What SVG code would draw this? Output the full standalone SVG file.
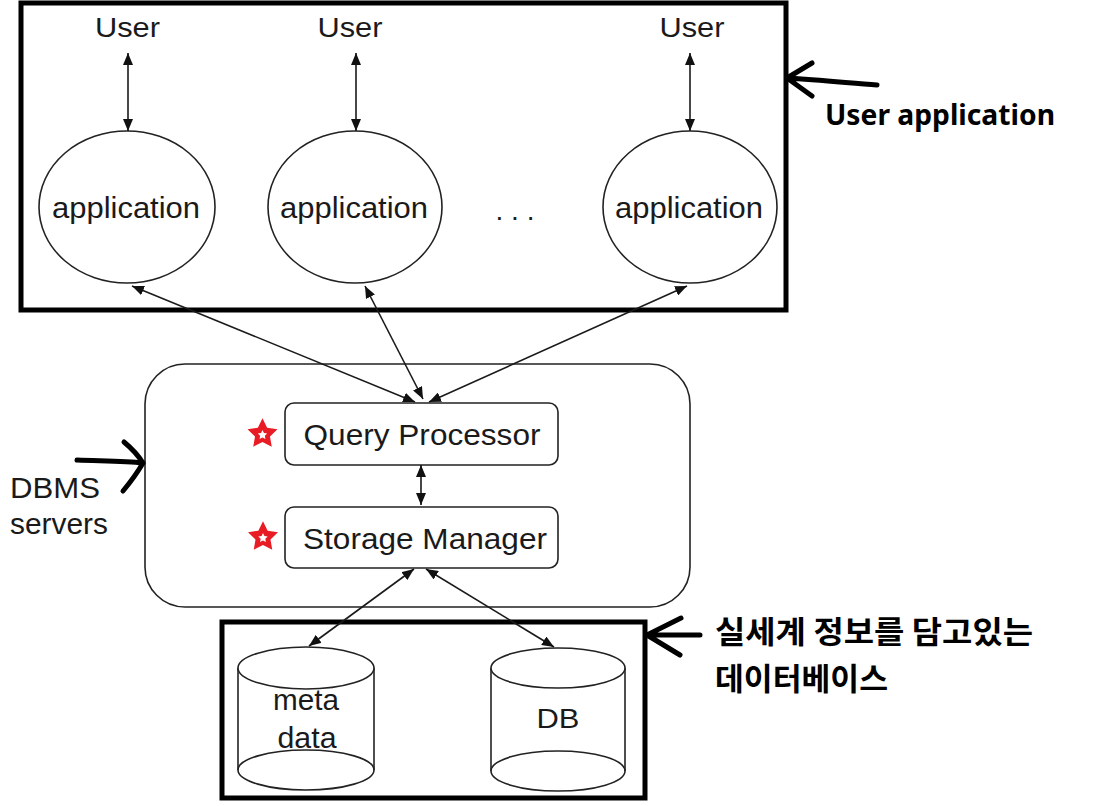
<svg xmlns="http://www.w3.org/2000/svg" width="1110" height="806" viewBox="0 0 1110 806">
  <style>
    .lbl { font-family: "Liberation Sans", Arial, sans-serif; fill: #1a1a1a; text-anchor: middle; }
    .lbl-l { font-family: "Liberation Sans", Arial, sans-serif; fill: #1a1a1a; text-anchor: start; }
    .note { font-family: "Noto Sans", "Liberation Sans", sans-serif; font-weight: bold; fill: #000; }
    .ko { font-family: "Noto Sans CJK KR", "Noto Sans", sans-serif; font-weight: bold; fill: #000; }
    .frame { fill: none; stroke: #000; stroke-width: 5; }
    .shape { fill: #fff; stroke: #222; stroke-width: 1.6; }
    .conn { fill: none; stroke: #1a1a1a; stroke-width: 1.6; marker-start: url(#ah); marker-end: url(#ah); }
    .hand { fill: none; stroke: #000; stroke-width: 5; stroke-linecap: round; stroke-linejoin: round; }
  </style>
  <defs>
    <marker id="ah" viewBox="0 0 12 10" refX="12" refY="5" markerWidth="12" markerHeight="10" markerUnits="userSpaceOnUse" orient="auto-start-reverse">
      <path d="M0,0 L12,5 L0,10 z" fill="#111"/>
    </marker>
    <polygon id="star" points="0,-15 4.41,-6.07 14.27,-4.64 7.13,2.32 8.82,12.14 0,7.5 -8.82,12.14 -7.13,2.32 -14.27,-4.64 -4.41,-6.07"/>
  </defs>
  <rect width="1110" height="806" fill="#fff"/>

  <!-- Frames -->
  <g id="user-app-frame">
    <rect class="frame" x="21" y="3" width="765" height="307"/>
  </g>
  <g id="db-frame">
    <rect class="frame" x="222" y="622" width="423" height="176"/>
  </g>

  <!-- DBMS server container -->
  <g id="dbms">
    <rect class="shape" x="145" y="364" width="545" height="243" rx="40" ry="40"/>
  </g>

  <!-- Users -->
  <g id="user1"><text class="lbl" x="127.5" y="37" font-size="27" textLength="65" lengthAdjust="spacingAndGlyphs">User</text></g>
  <g id="user2"><text class="lbl" x="350" y="37" font-size="27" textLength="65" lengthAdjust="spacingAndGlyphs">User</text></g>
  <g id="user3"><text class="lbl" x="692" y="37" font-size="27" textLength="65" lengthAdjust="spacingAndGlyphs">User</text></g>

  <!-- Applications -->
  <g id="app1">
    <ellipse class="shape" cx="127" cy="207" rx="88" ry="76"/>
    <text class="lbl" x="126" y="218" font-size="30" textLength="148" lengthAdjust="spacingAndGlyphs">application</text>
  </g>
  <g id="app2">
    <ellipse class="shape" cx="355" cy="207" rx="87" ry="76"/>
    <text class="lbl" x="354" y="218" font-size="30" textLength="148" lengthAdjust="spacingAndGlyphs">application</text>
  </g>
  <g id="dots"><text class="lbl" x="515" y="220" font-size="28">. . .</text></g>
  <g id="app3">
    <ellipse class="shape" cx="690" cy="207" rx="87" ry="76"/>
    <text class="lbl" x="689" y="218" font-size="30" textLength="148" lengthAdjust="spacingAndGlyphs">application</text>
  </g>

  <!-- Query processor / Storage manager -->
  <g id="query-processor">
    <rect class="shape" x="285" y="403" width="273" height="62" rx="9" ry="9"/>
    <text class="lbl" x="422" y="445" font-size="29" textLength="237" lengthAdjust="spacingAndGlyphs">Query Processor</text>
  </g>
  <g id="storage-manager">
    <rect class="shape" x="285" y="507" width="273" height="61" rx="9" ry="9"/>
    <text class="lbl" x="425" y="549" font-size="29" textLength="244" lengthAdjust="spacingAndGlyphs">Storage Manager</text>
  </g>

  <!-- Stars -->
  <g id="star1">
    <use href="#star" transform="translate(262.5,434) scale(1.05)" fill="#e81c24"/>
    <use href="#star" transform="translate(262.5,435) scale(0.33)" fill="#fff"/>
  </g>
  <g id="star2">
    <use href="#star" transform="translate(263,537) scale(1.05)" fill="#e81c24"/>
    <use href="#star" transform="translate(263,538) scale(0.33)" fill="#fff"/>
  </g>

  <!-- Cylinders -->
  <g id="metadata">
    <path d="M238,668 L238,770 A68,20 0 0 0 374,770 L374,668 Z" fill="#fff"/>
    <line x1="238" y1="668" x2="238" y2="770" stroke="#222" stroke-width="1.6"/>
    <line x1="374" y1="668" x2="374" y2="770" stroke="#222" stroke-width="1.6"/>
    <ellipse class="shape" cx="306" cy="668" rx="68" ry="21"/>
    <ellipse cx="306" cy="770" rx="68" ry="20" fill="none" stroke="#222" stroke-width="1.6"/>
    <text class="lbl" x="306" y="710" font-size="29" textLength="66" lengthAdjust="spacingAndGlyphs">meta</text>
    <text class="lbl" x="307" y="748" font-size="29" textLength="59" lengthAdjust="spacingAndGlyphs">data</text>
  </g>
  <g id="db">
    <path d="M491,668 L491,771 A67,20 0 0 0 625,771 L625,668 Z" fill="#fff"/>
    <line x1="491" y1="668" x2="491" y2="771" stroke="#222" stroke-width="1.6"/>
    <line x1="625" y1="668" x2="625" y2="771" stroke="#222" stroke-width="1.6"/>
    <ellipse class="shape" cx="558" cy="668" rx="67" ry="20"/>
    <ellipse cx="558" cy="771" rx="67" ry="20" fill="none" stroke="#222" stroke-width="1.6"/>
    <text class="lbl" x="558" y="728" font-size="27" textLength="43" lengthAdjust="spacingAndGlyphs">DB</text>
  </g>

  <!-- Connectors -->
  <g id="connectors">
    <line class="conn" x1="128" y1="53" x2="128" y2="131"/>
    <line class="conn" x1="356" y1="53" x2="356" y2="131"/>
    <line class="conn" x1="690" y1="53" x2="690" y2="131"/>
    <line class="conn" x1="132" y1="286" x2="415" y2="402"/>
    <line class="conn" x1="365" y1="286" x2="423" y2="399"/>
    <line class="conn" x1="687" y1="286" x2="429" y2="402"/>
    <line class="conn" x1="421" y1="465" x2="421" y2="505"/>
    <line class="conn" x1="414" y1="569" x2="309" y2="646"/>
    <line class="conn" x1="426" y1="569" x2="554" y2="647"/>
  </g>

  <!-- Annotations -->
  <g id="note-user-app">
    <path class="hand" d="M877,85 C850,83 820,80 787,78 M787,78 L812,63 M787,78 L812,96"/>
    <text class="note" x="825" y="125" font-size="29" textLength="230" lengthAdjust="spacingAndGlyphs">User application</text>
  </g>
  <g id="note-dbms">
    <path class="hand" d="M77,460 C100,461 125,461 143,463 M143,463 C138,455 130,447 124,442 M143,463 C136,475 128,485 123,491"/>
    <text class="lbl-l" x="10" y="498" font-size="30" textLength="90" lengthAdjust="spacingAndGlyphs">DBMS</text>
    <text class="lbl-l" x="10" y="534" font-size="30" textLength="98" lengthAdjust="spacingAndGlyphs">servers</text>
  </g>
  <g id="note-db">
    <path class="hand" d="M700,635 L647,635 M647,635 L681,618 M647,635 L680,655"/>
    <text class="ko" x="715" y="643" font-size="31" textLength="318" lengthAdjust="spacingAndGlyphs">실세계 정보를 담고있는</text>
    <text class="ko" x="715" y="690" font-size="31" textLength="173" lengthAdjust="spacingAndGlyphs">데이터베이스</text>
  </g>
</svg>
